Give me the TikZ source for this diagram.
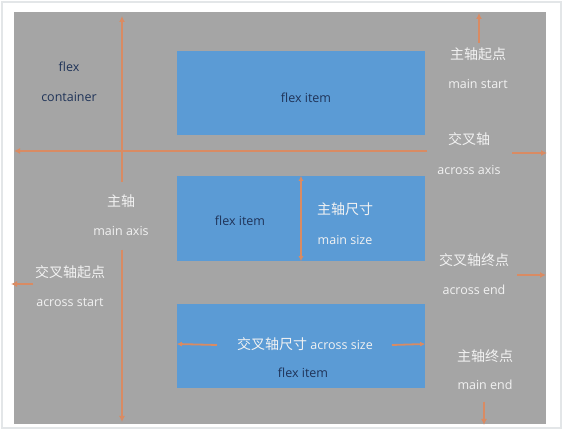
\documentclass[tikz,border=0pt]{standalone}
\usepackage{fontspec}
\setmainfont{Open Sans}
\newfontfamily\cjk{Noto Sans CJK SC}
\usetikzlibrary{arrows.meta}
\definecolor{bggray}{HTML}{A5A5A5}
\definecolor{itemblue}{HTML}{5B9BD5}
\definecolor{axisorange}{HTML}{D98B63}
\definecolor{navytext}{HTML}{1F3358}
\definecolor{lighttext}{HTML}{F2F2F2}
\definecolor{framegray}{HTML}{E3E6E8}
\tikzset{
  itembox/.style={fill=itemblue, draw=none, minimum width=248pt, minimum height=84pt, inner sep=0pt},
  darklabel/.style={text=navytext, font=\fontsize{12.5}{15}\selectfont, inner sep=0pt},
  wlabel/.style={text=lighttext, font=\fontsize{12.5}{15}\selectfont, inner sep=1pt, align=center},
  axisline/.style={draw=axisorange, line width=2.2pt},
  tipend/.style={-{Latex[length=6pt,width=6pt]}},
}
\newcommand{\cn}[1]{{\cjk\fontsize{14}{16}\selectfont #1}}
\begin{document}
\begin{tikzpicture}[x=1pt,y=-1pt]
\useasboundingbox (0,0) rectangle (563,430);
\fill[white] (0,0) rectangle (563,430);
\draw[framegray, line width=2pt] (2,2) rectangle (561,428);
\fill[bggray] (13.5,12.5) rectangle (546,424);

% items
\node[itembox] (b1) at (301,93.5) {};
\node[itembox, minimum height=85pt] (b2) at (301,218.5) {};
\node[itembox] (b3) at (301,346) {};

\node[darklabel] (t1) at (306,98) {flex item};
\node[darklabel] (t2) at (240,221) {flex item};
\node[darklabel] (t3) at (303,373) {flex item};

\node[darklabel] (fc1) at (69,67) {flex};
\node[darklabel] (fc2) at (69,97) {container};

% main axis (vertical)
\coordinate (mtop) at (122,16);
\coordinate (mbot) at (122,422);
\node[wlabel] (ma1) at (121,201) {\cn{主轴}};
\node[wlabel] (ma2) at (121,231) {main axis};
\draw[axisline, tipend] (122,182) -- (mtop);
\draw[axisline, tipend] (122,250) -- (mbot);

% across axis (horizontal)
\coordinate (aleft) at (14,151);
\coordinate (aright) at (427,151);
\draw[axisline, tipend] (aright) -- (aleft);

% right labels
\node[wlabel] (ms1) at (478,54) {\cn{主轴起点}};
\node[wlabel] (ms2) at (478,84) {main start};
\coordinate (msa) at (479,43);
\coordinate (msb) at (479,13);
\draw[axisline, tipend] (msa) -- (msb);

\node[wlabel] (ax1) at (469,139) {\cn{交叉轴}};
\node[wlabel] (ax2) at (469,170) {across axis};
\coordinate (axa) at (512,153);
\coordinate (axb) at (547,153);
\draw[axisline, tipend] (axa) -- (axb);

\node[wlabel] (ae1) at (474,260) {\cn{交叉轴终点}};
\node[wlabel] (ae2) at (474,290) {across end};
\coordinate (aea) at (517,275);
\coordinate (aeb) at (546,275);
\draw[axisline, tipend] (aea) -- (aeb);

\node[wlabel] (me1) at (485,356) {\cn{主轴终点}};
\node[wlabel] (me2) at (485,385) {main end};
\coordinate (mea) at (484,402);
\coordinate (meb) at (484,425);
\draw[axisline, tipend] (mea) -- (meb);

% left labels
\node[wlabel] (as1) at (70,272) {\cn{交叉轴起点}};
\node[wlabel] (as2) at (70,302) {across start};
\coordinate (asa) at (33,284);
\coordinate (asb) at (11,284);
\draw[axisline, tipend] (asa) -- (asb);

% main size
\draw[axisline, line width=1.8pt, {Latex[length=5pt,width=5pt]}-{Latex[length=5pt,width=5pt]}] (b2.north -| 301,0) -- (b2.south -| 301,0);
\node[wlabel] (msz1) at (345,209) {\cn{主轴尺寸}};
\node[wlabel] (msz2) at (345,240) {main size};

% across size
\node[wlabel] (acs) at (305,344) {\cn{交叉轴尺寸} across size};
\draw[axisline, line width=1.8pt, {Latex[length=5pt,width=5pt]}-] (b3.west |- acs) -- (217,345);
\draw[axisline, line width=1.8pt, -{Latex[length=5pt,width=5pt]}] (392,345) -- (b3.east |- acs);
\end{tikzpicture}
\end{document}
